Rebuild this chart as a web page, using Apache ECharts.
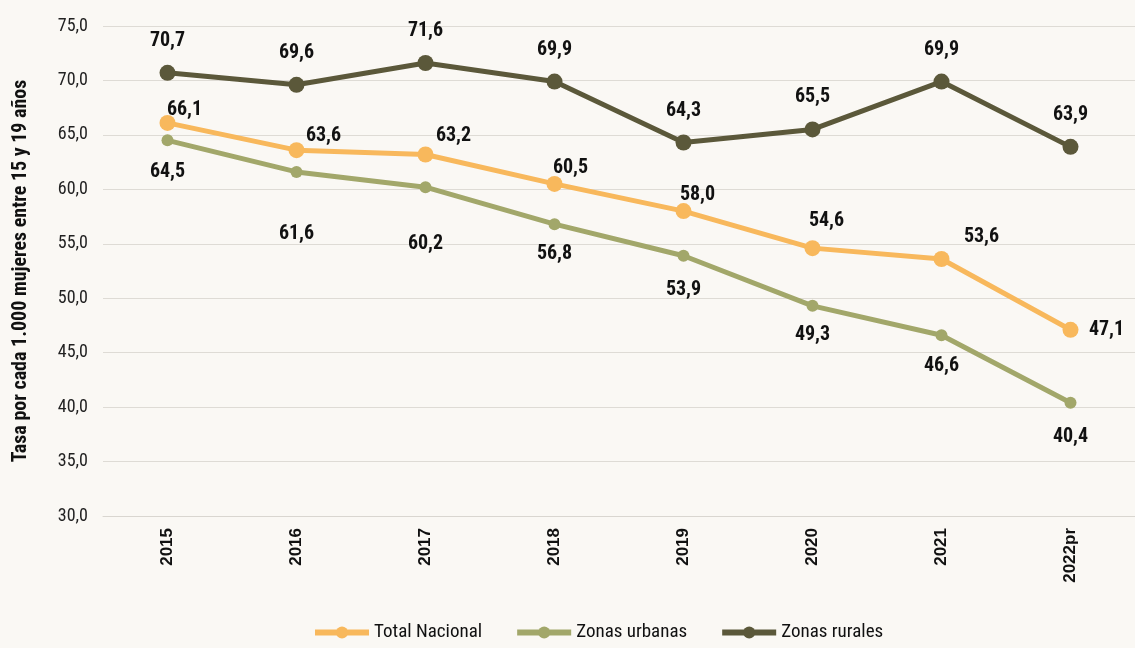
<!DOCTYPE html>
<html>
<head>
<meta charset="utf-8">
<script src="https://cdn.jsdelivr.net/npm/echarts@6/dist/echarts.min.js"></script>
<style>
  html, body { margin: 0; padding: 0; background: #faf8f4; }
  #main { width: 1135px; height: 648px; }
</style>
</head>
<body>
<div id="main"></div>
<script>
// datos
var years = ["2015", "2016", "2017", "2018", "2019", "2020", "2021", "2022pr"];
var totalNacional = [66.1, 63.6, 63.2, 60.5, 58.0, 54.6, 53.6, 47.1];
var zonasUrbanas = [64.5, 61.6, 60.2, 56.8, 53.9, 49.3, 46.6, 40.4];
var zonasRurales = [70.7, 69.6, 71.6, 69.9, 64.3, 65.5, 69.9, 63.9];

// desplazamiento de etiquetas (px) por punto
var totalOffsets = [[17, -13], [27, -14], [28, -18], [16, -16], [14, -16], [14, -27], [40, -22], [36, 0]];
var urbanOffsets = [[0, 32], [0, 62], [0, 57], [0, 30], [0, 34], [0, 29], [0, 31], [0, 34]];

var font = "'Roboto Condensed', 'Roboto', sans-serif";

function fmt(v) {
  return v.toFixed(1).replace(".", ",");
}

function withOffsets(vals, offs) {
  var out = [];
  for (var i = 0; i < vals.length; i++) {
    out.push({ value: vals[i], label: { offset: offs[i] } });
  }
  return out;
}

var labelStyle = {
  show: true,
  position: "inside",
  fontFamily: font,
  fontWeight: "bold",
  fontSize: 20,
  color: "#111",
  formatter: function (p) { return fmt(p.value); }
};

var myChart = echarts.init(document.getElementById("main"));
var option = {
  backgroundColor: "#faf8f4",
  animation: false,
  grid: { left: 103, top: 26, width: 1040, height: 490 },
  legend: {
    bottom: 1,
    left: 307,
    itemWidth: 54,
    itemHeight: 15,
    itemGap: 32,
    lineStyle: { width: 6 },
    textStyle: { fontFamily: font, fontSize: 19, color: "#111" },
    data: ["Total Nacional", "Zonas urbanas", "Zonas rurales"]
  },
  xAxis: {
    type: "category",
    data: years,
    boundaryGap: true,
    axisLine: { show: true, lineStyle: { color: "#d9d6d0", width: 1 } },
    axisTick: { show: false },
    axisLabel: {
      rotate: 90,
      margin: 12,
      fontFamily: "'Liberation Sans', Arial, sans-serif",
      fontWeight: "bold",
      fontSize: 17,
      color: "#111"
    }
  },
  yAxis: {
    type: "value",
    min: 30,
    max: 75,
    interval: 5,
    name: "Tasa por cada 1.000 mujeres entre 15 y 19 años",
    nameLocation: "middle",
    nameGap: 72,
    nameTextStyle: { fontFamily: font, fontWeight: "bold", fontSize: 20, color: "#111" },
    axisLine: { show: false },
    axisTick: { show: false },
    axisLabel: {
      margin: 15,
      fontFamily: font,
      fontSize: 18,
      color: "#222",
      formatter: function (v) { return fmt(v); }
    },
    splitLine: { lineStyle: { color: "#dedbd5", width: 1 } }
  },
  series: [
    {
      name: "Total Nacional",
      type: "line",
      data: withOffsets(totalNacional, totalOffsets),
      color: "#f8b85c",
      lineStyle: { width: 5 },
      symbol: "circle",
      symbolSize: 16,
      label: labelStyle,
      z: 3
    },
    {
      name: "Zonas urbanas",
      type: "line",
      data: withOffsets(zonasUrbanas, urbanOffsets),
      color: "#a2a76a",
      lineStyle: { width: 5 },
      symbol: "circle",
      symbolSize: 12,
      label: labelStyle,
      z: 2
    },
    {
      name: "Zonas rurales",
      type: "line",
      data: zonasRurales,
      color: "#5b583a",
      lineStyle: { width: 5 },
      symbol: "circle",
      symbolSize: 16,
      label: Object.assign({}, labelStyle, { position: "top", distance: 14 }),
      z: 4
    }
  ]
};
myChart.setOption(option);
</script>
</body>
</html>
